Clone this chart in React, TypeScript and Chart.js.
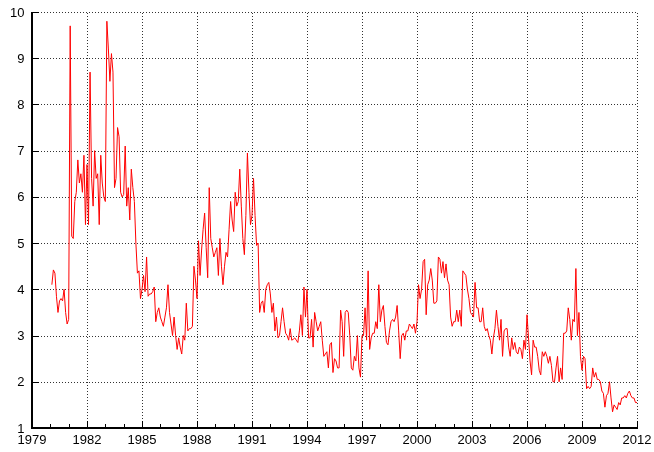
import React, { useEffect, useRef } from "react";
import { Chart, registerables } from "chart.js";

Chart.register(...registerables);

// Monthly values, one array per calendar year (Jan..Dec)
const firstYear = 1980;
const y1980 = [4.1, 4.42, 4.35, 3.85, 3.5, 3.75, 3.8, 3.75, 4.0, 3.5, 3.25, 3.35];
const y1981 = [9.7, 5.15, 5.1, 5.9, 6.1, 6.8, 6.3, 6.5, 6.1, 6.9, 5.4, 6.7];
const y1982 = [5.4, 8.7, 6.4, 5.8, 7.0, 6.4, 6.5, 5.4, 6.9, 6.3, 6.0, 5.9];
const y1983 = [9.8, 9.2, 8.5, 9.1, 8.7, 6.2, 6.4, 7.5, 7.3, 6.1, 6.0, 6.05];
const y1984 = [7.1, 5.8, 6.2, 5.5, 6.6, 6.2, 5.9, 5.0, 4.35, 4.4, 3.8, 4.0];
const y1985 = [4.3, 3.95, 4.7, 3.85, 3.9, 3.9, 3.95, 4.05, 3.3, 3.5, 3.6, 3.4];
const y1986 = [3.3, 3.2, 3.4, 3.6, 4.1, 3.5, 3.25, 3.0, 3.4, 3.0, 2.7, 2.95];
const y1987 = [2.75, 2.6, 3.0, 2.9, 3.7, 3.1, 3.15, 3.15, 3.2, 4.5, 4.2, 3.8];
const y1988 = [5.05, 4.3, 4.85, 5.3, 5.65, 4.9, 4.25, 6.2, 5.1, 4.9, 4.7, 4.8];
const y1989 = [4.9, 4.3, 5.1, 4.5, 4.1, 4.5, 4.8, 4.7, 5.3, 5.9, 5.5, 5.25];
const y1990 = [6.1, 5.8, 5.9, 6.6, 5.8, 5.1, 4.75, 5.6, 6.95, 6.1, 5.4, 5.6];
const y1991 = [6.4, 5.6, 4.95, 5.0, 3.5, 3.7, 3.75, 3.5, 4.0, 4.1, 4.15, 3.9];
const y1992 = [3.5, 3.7, 3.1, 3.4, 2.95, 3.0, 3.3, 3.6, 3.3, 3.05, 3.0, 2.9];
const y1993 = [3.15, 2.9, 2.92, 2.95, 2.9, 2.85, 3.1, 3.45, 3.0, 4.05, 3.4, 4.0];
const y1994 = [2.95, 2.95, 3.35, 2.75, 3.5, 3.3, 3.1, 3.2, 3.3, 2.9, 2.55, 2.6];
const y1995 = [2.65, 2.3, 2.8, 2.85, 2.2, 2.5, 2.45, 2.3, 2.3, 3.55, 3.3, 2.55];
const y1996 = [3.5, 3.55, 3.5, 3.0, 2.3, 2.25, 2.55, 2.45, 3.0, 2.3, 2.1, 3.0];
const y1997 = [3.0, 3.6, 2.9, 4.4, 2.7, 2.95, 3.05, 3.05, 3.3, 3.15, 4.1, 3.3];
const y1998 = [3.55, 3.65, 3.2, 2.85, 2.8, 3.1, 3.3, 3.35, 3.3, 3.4, 3.65, 3.1];
const y1999 = [2.5, 3.0, 3.05, 2.9, 3.1, 3.1, 3.25, 3.2, 3.15, 3.25, 3.05, 3.3];
const y2000 = [4.1, 3.8, 4.0, 4.6, 4.65, 3.45, 4.1, 4.2, 4.45, 4.2, 3.7, 3.7];
const y2001 = [3.75, 4.7, 4.65, 4.35, 4.6, 4.25, 4.55, 4.2, 4.1, 3.4, 3.2, 3.3];
const y2002 = [3.3, 3.55, 3.3, 3.55, 3.2, 4.4, 4.35, 4.3, 4.0, 3.8, 3.5, 3.45];
const y2003 = [3.4, 4.15, 3.6, 3.6, 3.3, 3.3, 3.6, 3.2, 3.1, 3.15, 3.0, 2.9];
const y2004 = [2.6, 2.95, 3.15, 3.55, 3.2, 2.9, 3.35, 2.55, 3.1, 3.15, 3.15, 2.75];
const y2005 = [2.55, 2.95, 2.7, 2.85, 2.65, 2.6, 2.75, 2.7, 2.5, 2.9, 2.7, 3.45];
const y2006 = [2.95, 2.45, 2.15, 2.9, 2.75, 2.75, 2.55, 2.25, 2.15, 2.65, 2.55, 2.65];
const y2007 = [2.55, 2.4, 2.55, 2.35, 2.0, 2.0, 2.3, 2.55, 2.0, 2.3, 2.05, 3.05];
const y2008 = [3.05, 3.1, 3.6, 3.35, 2.9, 3.35, 3.3, 4.45, 3.0, 3.5, 2.55, 2.25];
const y2009 = [2.55, 2.5, 1.85, 1.9, 1.85, 1.9, 2.3, 2.1, 2.2, 2.05, 2.05, 2.0];
const y2010 = [1.8, 1.75, 1.45, 1.7, 1.75, 2.0, 1.65, 1.35, 1.5, 1.45, 1.4, 1.55];
const y2011 = [1.5, 1.65, 1.65, 1.7, 1.65, 1.75, 1.8, 1.7, 1.65, 1.65, 1.55, 1.55];

const yearly = [
  y1980, y1981, y1982, y1983, y1984, y1985, y1986, y1987, y1988, y1989,
  y1990, y1991, y1992, y1993, y1994, y1995, y1996, y1997, y1998, y1999,
  y2000, y2001, y2002, y2003, y2004, y2005, y2006, y2007, y2008, y2009,
  y2010, y2011,
];

const xMin = 1979;
const xMax = 2012;
const xStep = 3;
const yMin = 1;
const yMax = 10;
const yStep = 1;

const xTickLabels: number[] = [];
for (let t = xMin; t <= xMax; t += xStep) xTickLabels.push(t);
const yTickLabels: number[] = [];
for (let t = yMin; t <= yMax; t += yStep) yTickLabels.push(t);

const FONT = "'Liberation Sans', Arial, Helvetica, sans-serif";

export default function App() {
  const ref = useRef<HTMLCanvasElement | null>(null);

  useEffect(() => {
    const canvas = ref.current;
    if (!canvas) return;
    const values = yearly.flat();
    const points = values.map((v, i) => ({ x: firstYear + (i + 1) / 12, y: v }));

    const frame = {
      id: "frame",
      beforeDatasetsDraw(chart: any) {
        const { ctx, chartArea: a, scales } = chart;
        const xs = scales.x;
        const ys = scales.y;
        ctx.save();
        // dotted grid
        ctx.strokeStyle = "#333";
        ctx.lineWidth = 1;
        ctx.setLineDash([1, 2]);
        for (const t of xTickLabels) {
          if (t === xMin) continue;
          const px = Math.round(xs.getPixelForValue(t)) + 0.5;
          ctx.beginPath();
          ctx.moveTo(px, a.bottom);
          ctx.lineTo(px, a.top);
          ctx.stroke();
        }
        for (const t of yTickLabels) {
          if (t === yMin) continue;
          const py = Math.round(ys.getPixelForValue(t)) + 0.5;
          ctx.beginPath();
          ctx.moveTo(a.left, py);
          ctx.lineTo(a.right, py);
          ctx.stroke();
        }
        ctx.setLineDash([]);
        ctx.strokeStyle = "#000";
        // ticks
        ctx.lineWidth = 1;
        for (let t = xMin; t <= xMax; t += 1) {
          const px = Math.round(xs.getPixelForValue(t)) + 0.5;
          const len = (t - xMin) % xStep === 0 ? 7 : 4;
          ctx.beginPath();
          ctx.moveTo(px, a.bottom);
          ctx.lineTo(px, a.bottom - len);
          ctx.stroke();
        }
        for (const t of yTickLabels) {
          const py = Math.round(ys.getPixelForValue(t)) + 0.5;
          ctx.beginPath();
          ctx.moveTo(a.left, py);
          ctx.lineTo(a.left + 7, py);
          ctx.stroke();
        }
        // axes (left and bottom)
        ctx.lineWidth = 2;
        ctx.beginPath();
        ctx.moveTo(Math.round(a.left), Math.round(a.top));
        ctx.lineTo(Math.round(a.left), Math.round(a.bottom));
        ctx.lineTo(Math.round(a.right) + 1, Math.round(a.bottom));
        ctx.stroke();

        // tick labels
        ctx.fillStyle = "#000";
        ctx.font = `13px ${FONT}`;
        ctx.textBaseline = "alphabetic";
        ctx.textAlign = "right";
        for (const t of yTickLabels) {
          const py = ys.getPixelForValue(t);
          ctx.fillText(String(t), 24.5, Math.round(py + 4.6));
        }
        ctx.textAlign = "center";
        for (const t of xTickLabels) {
          const px = xs.getPixelForValue(t);
          ctx.fillText(String(t), px, 444);
        }
        ctx.restore();
      },
    };

    const chart = new Chart(canvas, {
      type: "line",
      data: {
        datasets: [
          {
            data: points,
            borderColor: "#ff0000",
            borderWidth: 1,
            pointRadius: 0,
            tension: 0,
            fill: false,
          },
        ],
      },
      options: {
        responsive: false,
        animation: false,
        maintainAspectRatio: false,
        layout: { padding: { left: 0, right: 17, top: 12, bottom: 0 } },
        plugins: {
          legend: { display: false },
          tooltip: { enabled: false },
        },
        scales: {
          x: {
            type: "linear",
            min: xMin,
            max: xMax,
            grid: { display: false },
            border: { display: false },
            ticks: { display: false },
            afterFit: (s: any) => {
              s.height = 24;
            },
          },
          y: {
            type: "linear",
            min: yMin,
            max: yMax,
            grid: { display: false },
            border: { display: false },
            ticks: { display: false },
            afterFit: (s: any) => {
              s.width = 32;
            },
          },
        },
      },
      plugins: [frame],
    });
    return () => chart.destroy();
  }, []);

  return (
    <div style={{ position: "fixed", left: 0, top: 0, width: 654, height: 452, background: "#fff" }}>
      <canvas ref={ref} width={654} height={452} style={{ display: "block" }} />
    </div>
  );
}
